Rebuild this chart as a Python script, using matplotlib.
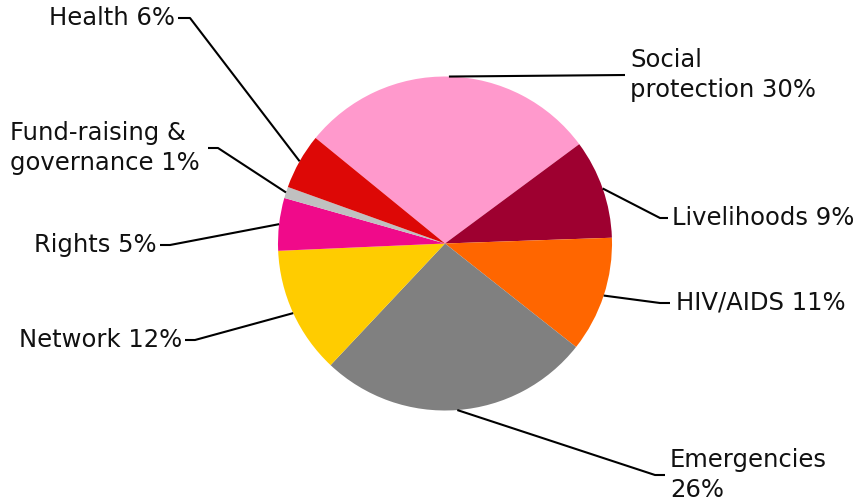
import numpy as np
import matplotlib.pyplot as plt

# Budget shares (%), in drawing order (clockwise from the top-left),
# read from the wedge angles of the picture
labels = ["Social\nprotection 30%", "Livelihoods 9%", "HIV/AIDS 11%", "Emergencies\n26%",
          "Network 12%", "Rights 5%", "Fund-raising &\ngovernance 1%", "Health 6%"]
shares = [29.0, 9.6, 11.2, 26.4, 12.3, 5.1, 1.1, 5.4]
colors = ["#FF99CC", "#9E0030", "#FF6600", "#808080",
          "#FFCC00", "#F00A8A", "#C0C0C0", "#DD0806"]

# label layout: (elbow x, end x, y, text x, ha) in figure pixel units (y from bottom)
layout = [
    (625, 625, 429, 630, "left"),
    (660, 668, 286, 672, "left"),
    (660, 670, 201, 676, "left"),
    (655, 665, 29, 670, "left"),
    (195, 185, 164, 182, "right"),
    (170, 160, 259, 157, "right"),
    (218, 208, 356, 10, "left"),
    (190, 178, 486, 175, "right"),
]

fig = plt.figure(figsize=(8.64, 5.04), dpi=100)
ax = fig.add_axes([0, 0, 1, 1])

cx, cy, r = 445, 260.5, 167
wedges, _ = ax.pie(shares, colors=colors, startangle=140.8, counterclock=False,
                   center=(cx, cy), radius=r, frame=True)
ax.set_xlim(0, 864)
ax.set_ylim(0, 504)
ax.axis("off")

for w, lab, (ex, endx, ly, tx, ha) in zip(wedges, labels, layout):
    ang = np.deg2rad((w.theta1 + w.theta2) / 2)
    sx, sy = cx + r * np.cos(ang), cy + r * np.sin(ang)
    ax.plot([sx, ex, endx], [sy, ly, ly], color="black", lw=1.5, solid_capstyle="butt")
    ax.text(tx, ly, lab, ha=ha, va="center", fontsize=17.5, color="#111111",
            multialignment="left", linespacing=1.3)

fig.savefig("out.png", dpi=100)
